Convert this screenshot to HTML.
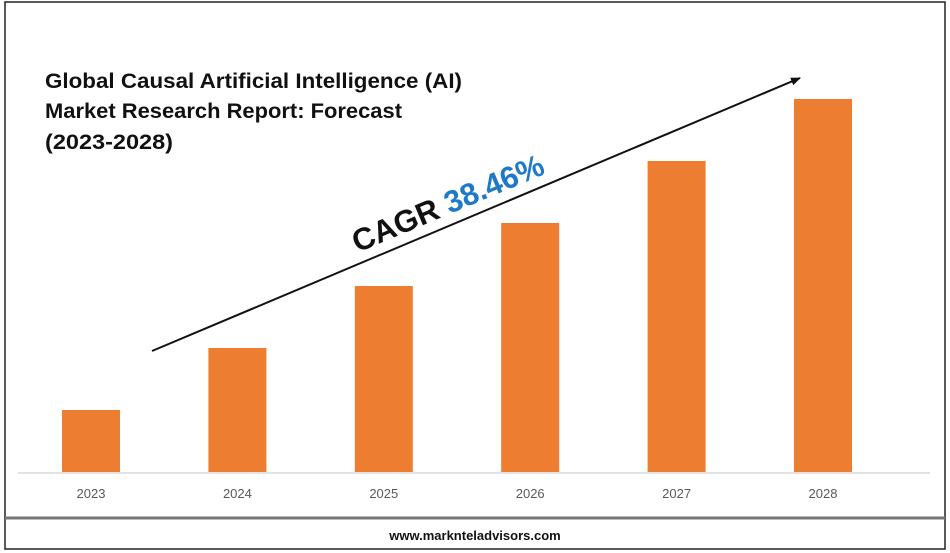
<!DOCTYPE html>
<html><head><meta charset="utf-8"><style>
body{margin:0;background:#fff;}
svg{display:block;font-family:"Liberation Sans",sans-serif;}
</style></head><body>
<svg id="c" width="950" height="553">
<rect x="5" y="2" width="940" height="547" fill="#fff" stroke="#222" stroke-width="1.5"/>
<line x1="5" y1="518" x2="945" y2="518" stroke="#777" stroke-width="3"/>
<line x1="18" y1="473" x2="930" y2="473" stroke="#d9d9d9" stroke-width="1.5"/>
<g font-weight="bold" font-size="21" fill="#111">
<text x="45" y="88" textLength="417" lengthAdjust="spacingAndGlyphs">Global Causal Artificial Intelligence (AI)</text>
<text x="45" y="118" textLength="357" lengthAdjust="spacingAndGlyphs">Market Research Report: Forecast</text>
<text x="45" y="149" textLength="128" lengthAdjust="spacingAndGlyphs">(2023-2028)</text>
</g>
<defs><marker id="ah" markerWidth="10" markerHeight="8" refX="9" refY="4" orient="auto" markerUnits="userSpaceOnUse"><path d="M0,0 L10,4 L0,8 Z" fill="#111"/></marker></defs>
<line x1="152" y1="351" x2="800" y2="78" stroke="#111" stroke-width="2" marker-end="url(#ah)"/>
<text transform="translate(452,213) rotate(-22.8)" text-anchor="middle" font-size="31" font-weight="bold"><tspan fill="#111">CAGR </tspan><tspan fill="#1f78c8">38.46%</tspan></text>
<g id="bars"></g>
<text x="475" y="540" text-anchor="middle" font-size="13" font-weight="bold" fill="#111">www.marknteladvisors.com</text>
</svg>
<script>
const categories=["2023","2024","2025","2026","2027","2028"];
const values=[62,124,186,249,311,373];
const x0=91,step=146.4,bw=58,base=472,maxV=373,plotH=373;
const y=v=>base-v/maxV*plotH;
const g=document.getElementById('bars');
const ns="http://www.w3.org/2000/svg";
categories.forEach((c,i)=>{
 const cx=x0+i*step;
 const r=document.createElementNS(ns,'rect');
 
 
 r.setAttribute('x',cx-bw/2);r.setAttribute('y',y(values[i]));
 r.setAttribute('width',bw);r.setAttribute('height',base-y(values[i]));
 r.setAttribute('fill','#ed7d31');g.appendChild(r);
 const t=document.createElementNS(ns,'text');
 
 
 t.setAttribute('x',cx);t.setAttribute('y',498);t.setAttribute('text-anchor','middle');
 t.setAttribute('font-size','13');t.setAttribute('fill','#595959');t.textContent=c;g.appendChild(t);
});
</script>
</body></html>
